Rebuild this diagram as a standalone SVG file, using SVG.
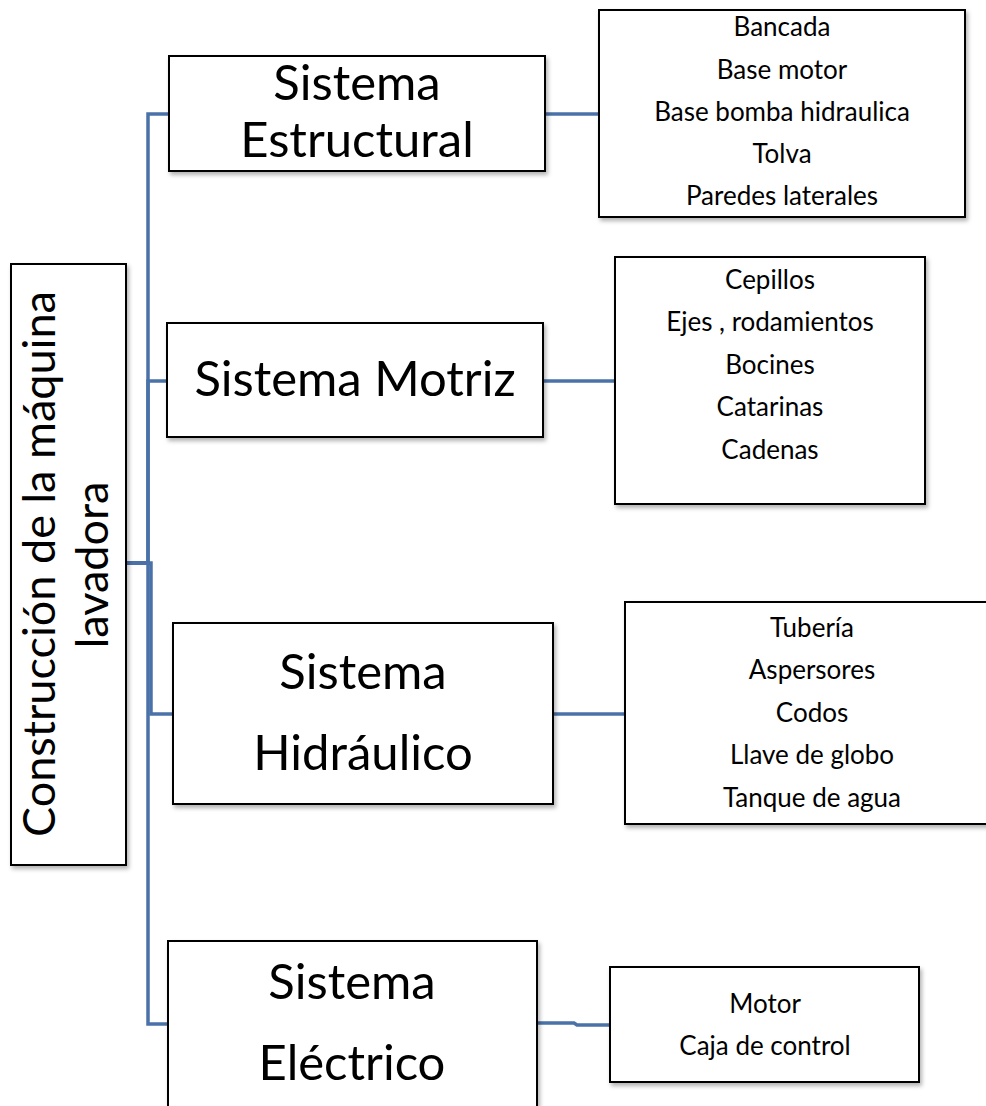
<svg xmlns="http://www.w3.org/2000/svg" width="986" height="1106" viewBox="0 0 986 1106">
<defs>
<filter id="sh" x="-5%" y="-5%" width="115%" height="115%">
<feDropShadow dx="2" dy="3" stdDeviation="2" flood-color="#000" flood-opacity="0.3"/>
</filter>
<style>
.box{fill:#fff;stroke:#000;stroke-width:2;filter:url(#sh)}
.big{font-family:Lato,"Open Sans",sans-serif;font-size:49px;fill:#000;text-anchor:middle}
.root{font-family:Lato,"Open Sans",sans-serif;font-size:45px;fill:#000;text-anchor:middle}
.sm{font-family:Lato,"Open Sans",sans-serif;font-size:26px;fill:#000;text-anchor:middle}
.con{fill:none;stroke:#4a72a8;stroke-width:3.5}
</style>
</defs>
<rect width="986" height="1106" fill="#fff"/>
<g id="connectors">
<path class="con" d="M126,563 H148 V114 H169"/>
<path class="con" d="M126,563 H148 V381 H167"/>
<path class="con" d="M126,563 H151 V714 H173"/>
<path class="con" d="M126,563 H148 V1024 H168"/>
<path class="con" d="M545,114 H599"/>
<path class="con" d="M543,381 H615"/>
<path class="con" d="M553,714 H625"/>
<path class="con" d="M537,1023 H574 L577,1025 H610"/>
</g>
<g id="root">
<rect class="box" x="11" y="264" width="115" height="601"/>
<text class="root" transform="rotate(-90)" x="-564" y="55">Construcción de la máquina</text>
<text class="root" transform="rotate(-90)" x="-565" y="108">lavadora</text>
</g>
<g id="estructural">
<rect class="box" x="169" y="56" width="376" height="115"/>
<text class="big" x="357" y="100">Sistema</text>
<text class="big" x="357" y="157">Estructural</text>
</g>
<g id="motriz">
<rect class="box" x="167" y="323" width="376" height="114"/>
<text class="big" x="355" y="396">Sistema Motriz</text>
</g>
<g id="hidraulico">
<rect class="box" x="173" y="623" width="380" height="181"/>
<text class="big" x="363" y="689">Sistema</text>
<text class="big" x="363" y="770">Hidráulico</text>
</g>
<g id="electrico">
<rect class="box" x="168" y="941" width="369" height="180"/>
<text class="big" x="352" y="999">Sistema</text>
<text class="big" x="352" y="1080">Eléctrico</text>
</g>
<g id="list-estructural">
<rect class="box" x="599" y="10" width="366" height="207"/>
<text class="sm" x="782" y="36">Bancada</text>
<text class="sm" x="782" y="79">Base motor</text>
<text class="sm" x="782" y="121">Base bomba hidraulica</text>
<text class="sm" x="782" y="163">Tolva</text>
<text class="sm" x="782" y="205">Paredes laterales</text>
</g>
<g id="list-motriz">
<rect class="box" x="615" y="257" width="310" height="247"/>
<text class="sm" x="770" y="289">Cepillos</text>
<text class="sm" x="770" y="331">Ejes , rodamientos</text>
<text class="sm" x="770" y="374">Bocines</text>
<text class="sm" x="770" y="416">Catarinas</text>
<text class="sm" x="770" y="459">Cadenas</text>
</g>
<g id="list-hidraulico">
<rect class="box" x="625" y="602" width="366" height="222"/>
<text class="sm" x="812" y="637">Tubería</text>
<text class="sm" x="812" y="679">Aspersores</text>
<text class="sm" x="812" y="722">Codos</text>
<text class="sm" x="812" y="764">Llave de globo</text>
<text class="sm" x="812" y="807">Tanque de agua</text>
</g>
<g id="list-electrico">
<rect class="box" x="610" y="967" width="309" height="115"/>
<text class="sm" x="765" y="1013">Motor</text>
<text class="sm" x="765" y="1055">Caja de control</text>
</g>
</svg>
